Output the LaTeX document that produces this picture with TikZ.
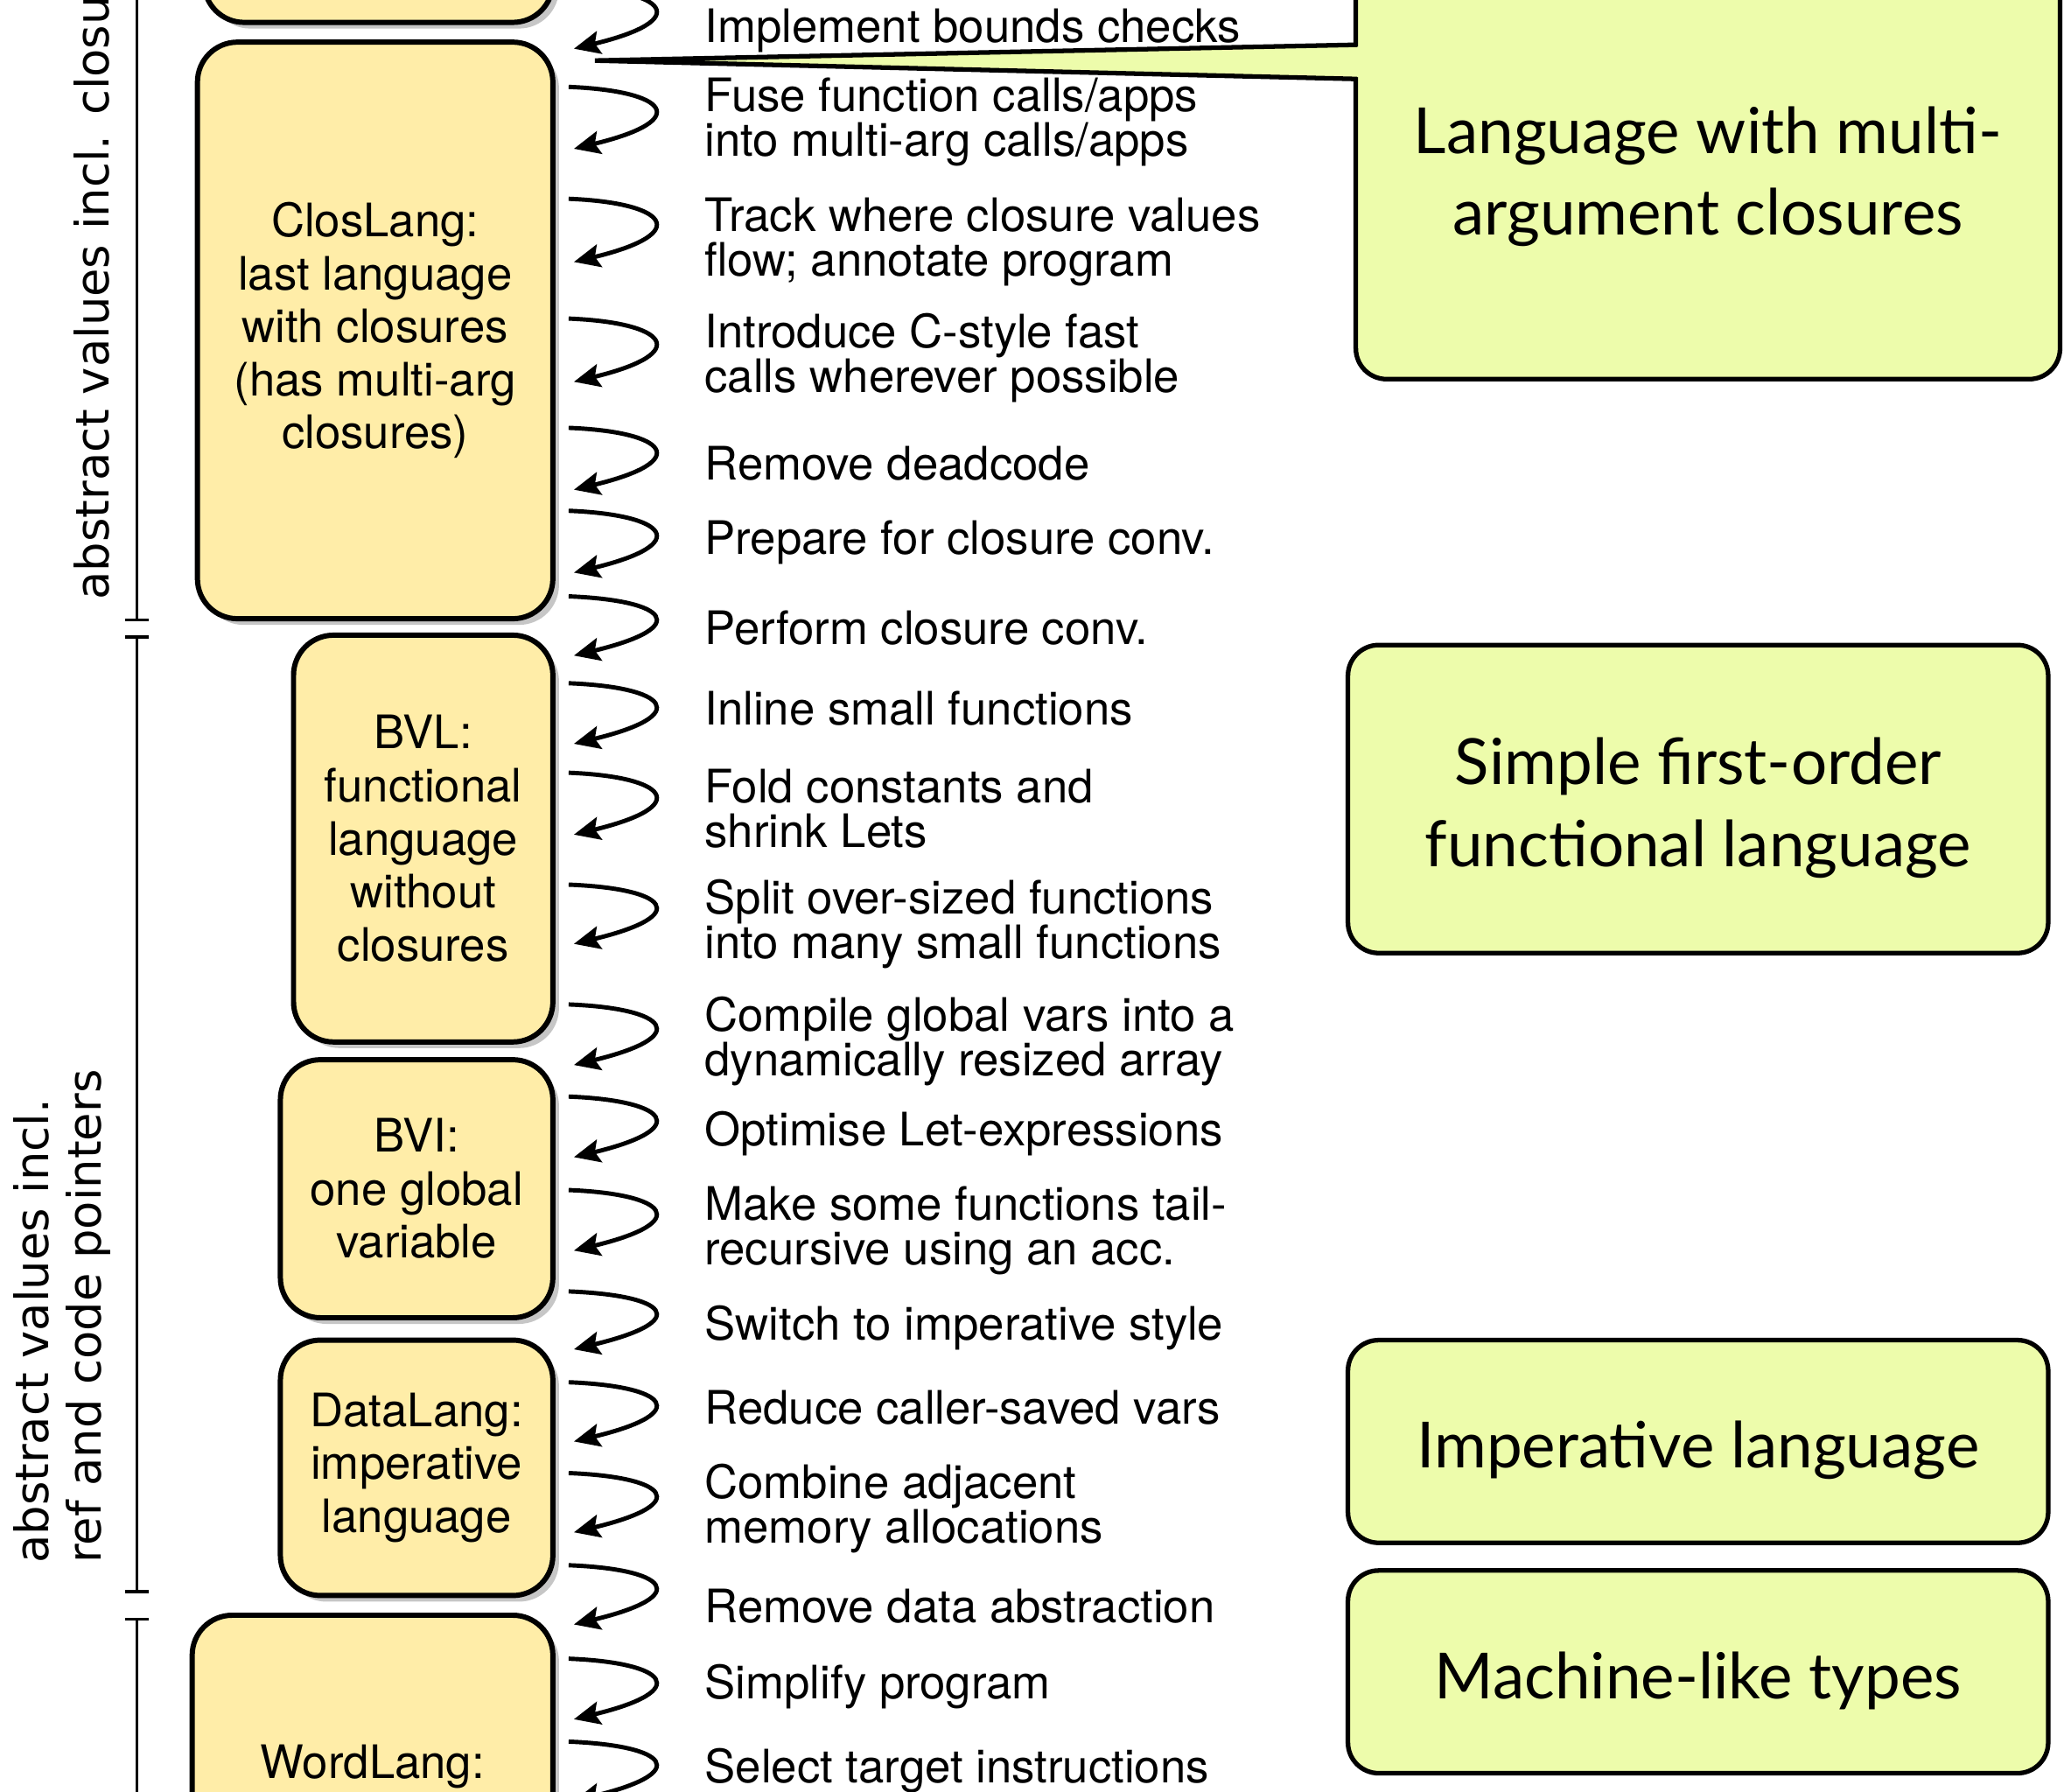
\documentclass[tikz,border=0pt]{standalone}
\usepackage{fontspec}
\usepackage{tikz}
\usetikzlibrary{arrows.meta, positioning, shadows}
\newfontfamily\helv{TeX Gyre Heros}
\newfontfamily\vera{DejaVu Sans}
\newfontfamily\gill{Lato}
\definecolor{langfill}{HTML}{FFEDA8}
\definecolor{notefill}{HTML}{EDFCAB}
\definecolor{shade}{HTML}{C6C6C6}
\newcommand{\pxu}{0.015045cm}

\begin{document}
\begin{tikzpicture}[
    x=\pxu, y=-\pxu,
    langbox/.style={rectangle, draw=black, fill=langfill, line width=1.7pt,
                    rounded corners=13pt, inner sep=0pt, align=center,
                    drop shadow={shadow xshift=2pt, shadow yshift=-2pt,
                                 fill=shade, opacity=1},
                    font=\helv\fontsize{15}{17.25}\selectfont},
    notebox/.style={rectangle, draw=black, fill=notefill, line width=1.5pt,
                    rounded corners=10pt, inner sep=0pt, align=center,
                    minimum width=532*\pxu,
                    font=\gill\fontsize{20.7}{26.5}\selectfont},
    passtxt/.style={anchor=west, inner sep=0pt, align=left,
                    font=\helv\fontsize{15}{14.5}\selectfont},
    passarr/.style={-{Stealth[length=8.5pt, width=7.5pt, inset=1.5pt]}, line width=1.4pt},
    bracket/.style={line width=1pt},
    sidetxt/.style={rotate=90, anchor=west, inner sep=0pt, align=left,
                    font=\vera\fontsize{15}{17}\selectfont}
  ]
    \useasboundingbox (0,0) rectangle (1568,1361);
    \clip (0,0) rectangle (1568,1361);

    % languages
    \node[langbox, minimum width=265*\pxu, minimum height=317*\pxu] (toplang)  at (287.5,-141.5) {};
    \node[langbox, minimum width=270*\pxu, minimum height=438*\pxu] (closlang) at (285,251)
      {ClosLang:\\last language\\with closures\\(has multi-arg\\closures)};
    \node[langbox, minimum width=197*\pxu, minimum height=309*\pxu] (bvl)      at (321.5,637)
      {BVL:\\functional\\language\\without\\closures};
    \node[langbox, minimum width=207*\pxu, minimum height=196*\pxu] (bvi)      at (316.5,903)
      {BVI:\\one global\\variable};
    \node[langbox, minimum width=207*\pxu, minimum height=194*\pxu] (datalang) at (316.5,1115)
      {DataLang:\\imperative\\language};
    \node[langbox, minimum width=274*\pxu, minimum height=473*\pxu] (wordlang) at (283,1463.5) {};
    \node[inner sep=0pt, font=\helv\fontsize{15}{17.25}\selectfont] (wordtxt) at (283,1342) {WordLang:};

    % value levels
    \draw[bracket] (104,-10) -- (104,471) (95,471) -- (113,471);
    \draw[bracket] (95,484) -- (113,484) (104,484) -- (104,1209) (95,1209) -- (113,1209);
    \draw[bracket] (95,1230) -- (113,1230) (104,1230) -- (104,1400);
    \node[sidetxt] (closval) at (70,456)  {abstract values incl. closures};
    \node[sidetxt] (refval)  at (47,1188) {abstract values incl.\\ref and code pointers};

    % passes
    \node[passtxt] (p1)  at (535,23)   {Implement bounds checks};
    \node[passtxt] (p2)  at (535,93)   {Fuse function calls/apps\\into multi-arg calls/apps};
    \node[passtxt] (p3)  at (535,184)  {Track where closure values\\flow; annotate program};
    \node[passtxt] (p4)  at (535,272)  {Introduce C-style fast\\calls wherever possible};
    \node[passtxt] (p5)  at (535,352)  {Remove deadcode};
    \node[passtxt] (p6)  at (535,412)  {Prepare for closure conv.};
    \node[passtxt] (p7)  at (535,477)  {Perform closure conv.};
    \node[passtxt] (p8)  at (535,538)  {Inline small functions};
    \node[passtxt] (p9)  at (535,614)  {Fold constants and\\shrink Lets};
    \node[passtxt] (p10) at (535,702)  {Split over-sized functions\\into many small functions};
    \node[passtxt] (p11) at (535,791)  {Compile global vars into a\\dynamically resized array};
    \node[passtxt] (p12) at (535,861)  {Optimise Let-expressions};
    \node[passtxt] (p13) at (535,935)  {Make some functions tail-\\recursive using an acc.};
    \node[passtxt] (p14) at (535,1009) {Switch to imperative style};
    \node[passtxt] (p15) at (535,1069) {Reduce caller-saved vars};
    \node[passtxt] (p16) at (535,1146) {Combine adjacent\\memory allocations};
    \node[passtxt] (p17) at (535,1220) {Remove data abstraction};
    \node[passtxt] (p18) at (535,1281) {Simplify program};
    \node[passtxt] (p19) at (535,1345) {Select target instructions};

    \foreach \i/\a/\b in {1/-10/37, 2/66/113, 3/151/199, 4/242/290, 5/325/372,
                          6/388/435, 7/453/498, 8/519/565, 9/587/634, 10/672/717,
                          11/763/809, 12/833/879, 13/904/950, 14/981/1025,
                          15/1050/1095, 16/1119/1164, 17/1189/1234, 18/1260/1306,
                          19/1323/1368} {
      \coordinate (s\i) at (432,\a);
      \coordinate (e\i) at (436,\b);
      \draw[passarr] (s\i) .. controls +(75,3) and +(91,-22) .. (e\i);
    }

    % notes
    \node[notebox, minimum width=535*\pxu, minimum height=314*\pxu] (multiarg)   at (1297.5,131)
      {\rule{0pt}{18pt}Language with multi-\\argument closures};
    \node[notebox, minimum height=234*\pxu] (firstorder) at (1290,607)
      {\rule{0pt}{21pt}Simple first-order\\functional language};
    \node[notebox, minimum height=154*\pxu] (imperative) at (1290,1095)
      {\rule{0pt}{21pt}Imperative language};
    \node[notebox, minimum height=154*\pxu] (machine)    at (1290,1270)
      {\rule{0pt}{21pt}Machine-like types};

    \coordinate (tip) at (452,46);
    \fill[notefill] (1034,35.5) -- (1027,35.3) -- (tip) -- (1027,58.7) -- (1034,58.5) -- cycle;
    \draw[line width=1.5pt, line join=miter] (1031,34) -- (tip) -- (1031,60);
  \end{tikzpicture}
\end{document}
